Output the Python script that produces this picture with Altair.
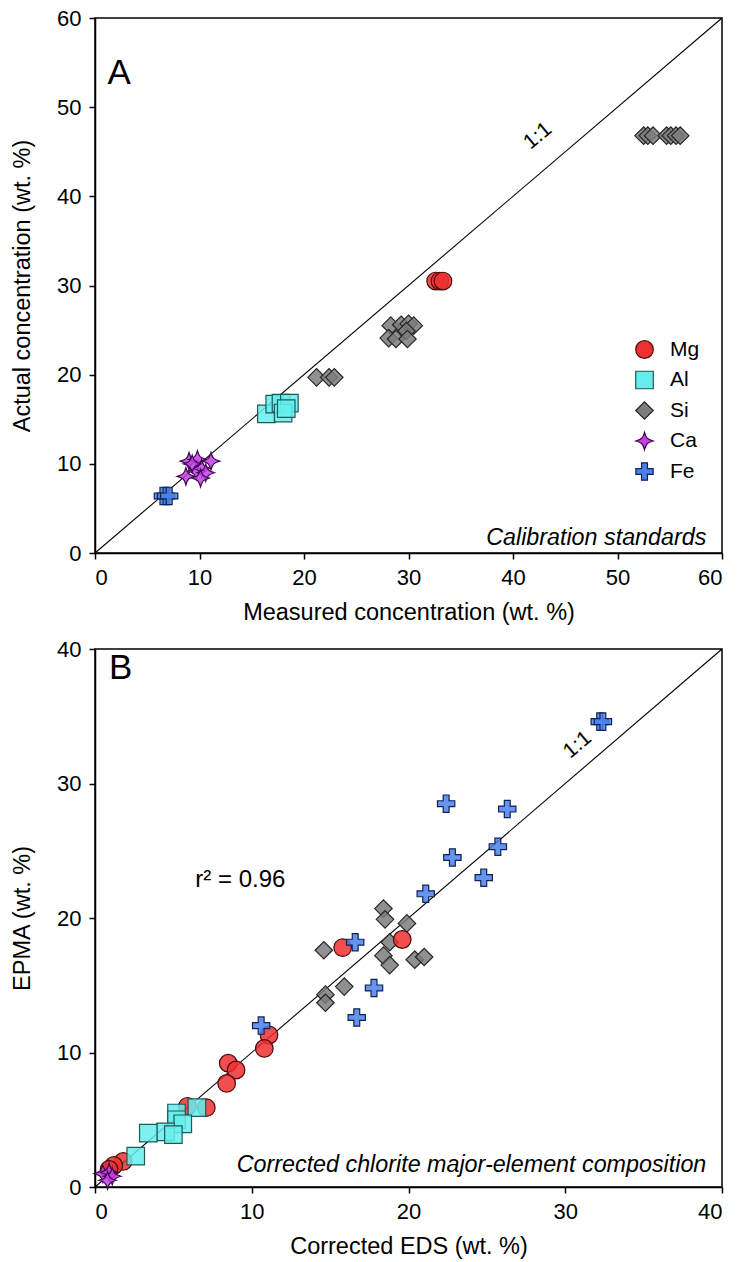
import altair as alt
import pandas as pd

FONT = "Liberation Sans"

elements = ["Mg", "Al", "Si", "Ca", "Fe"]
fill_colors = ["#ee3030", "#66eeec", "#7d7d7d", "#c53ee6", "#4b80ea"]
stroke_colors = ["#4a0a0a", "#1d5a5a", "#262626", "#3b0a4d", "#0f2352"]
STAR = ("M0,-1 C0.2,-0.3 0.3,-0.2 1,0 C0.3,0.2 0.2,0.3 0,1 "
        "C-0.2,0.3 -0.3,0.2 -1,0 C-0.3,-0.2 -0.2,-0.3 0,-1 Z")
CROSS = ("M-1,-0.34 L-0.34,-0.34 L-0.34,-1 L0.34,-1 L0.34,-0.34 L1,-0.34 "
         "L1,0.34 L0.34,0.34 L0.34,1 L-0.34,1 L-0.34,0.34 L-1,0.34 Z")
shapes = ["circle", "square", "diamond", STAR, CROSS]
sizes = [310, 300, 450, 680, 540]
draw_order = ["Si", "Mg", "Al", "Ca", "Fe"]

# ---- Panel A: calibration standards ----
a_mg_x = [32.6, 33.0, 33.3]
a_mg_y = [30.5, 30.5, 30.5]
a_al_x = [16.4, 17.2, 17.8, 18.6, 18.0, 18.3]
a_al_y = [15.6, 16.7, 16.8, 16.8, 15.7, 16.2]
a_si_x = [21.2, 22.4, 22.9, 28.3, 29.3, 30.0, 30.5, 29.8, 28.1, 28.8, 29.9,
          52.5, 52.9, 53.4, 54.7, 55.1, 55.6, 56.0]
a_si_y = [19.7, 19.7, 19.7, 25.5, 25.6, 25.7, 25.5, 24.9, 24.1, 24.0, 24.0,
          46.8, 46.8, 46.8, 46.8, 46.8, 46.8, 46.8]
a_ca_x = [9.0, 9.8, 11.1, 8.7, 9.7, 10.2, 10.6, 9.3, 10.1]
a_ca_y = [10.3, 10.5, 10.3, 8.6, 9.2, 9.5, 9.0, 10.0, 8.4]
a_fe_x = [6.5, 6.8, 7.1]
a_fe_y = [6.4, 6.4, 6.4]

# ---- Panel B: corrected chlorite composition ----
b_mg_x = [15.8, 19.6, 11.1, 10.8, 8.5, 9.0, 8.4, 5.9, 7.1, 1.8, 1.2, 0.9]
b_mg_y = [17.8, 18.4, 11.3, 10.3, 9.2, 8.7, 7.7, 6.0, 5.9, 1.9, 1.6, 1.3]
b_al_x = [6.5, 5.2, 5.2, 5.6, 4.5, 5.0, 3.4, 2.6]
b_al_y = [5.9, 5.5, 5.0, 4.7, 4.1, 3.9, 4.0, 2.3]
b_si_x = [14.6, 18.4, 18.5, 19.9, 18.8, 18.4, 18.8, 20.4, 21.0, 15.9, 14.7, 14.7]
b_si_y = [17.6, 20.7, 19.9, 19.6, 18.2, 17.2, 16.5, 16.9, 17.1, 14.9, 14.3, 13.7]
b_ca_x = [0.5, 0.9, 1.1, 0.8]
b_ca_y = [1.0, 1.1, 0.8, 0.5]
b_fe_x = [32.2, 32.4, 22.4, 26.3, 22.8, 25.7, 24.8, 21.1, 16.6, 17.8, 16.7, 10.6]
b_fe_y = [34.6, 34.6, 28.5, 28.1, 24.5, 25.3, 23.0, 21.8, 18.2, 14.8, 12.6, 12.0]

a_ticks = [0, 10, 20, 30, 40, 50, 60]
b_ticks = [0, 10, 20, 30, 40]
a_one_to_one = [0, 60]
b_one_to_one = [0, 40]

# annotations: [text, x, y]
a_letter = ["A", 1.2, 53.8]
b_letter = ["B", 0.9, 38.6]
a_ratio = ["1:1", 43.0, 45.9]
b_ratio = ["1:1", 31.2, 32.3]
b_r2 = ["r\u00b2 = 0.96", 6.4, 22.8]
a_note = ["Calibration standards", 58.5, 1.7]
b_note = ["Corrected chlorite major-element composition", 39.0, 1.6]


def points_df(d):
    rows = []
    for el in draw_order:
        xs, ys = d[el]
        for xv, yv in zip(xs, ys):
            rows.append({"x": xv, "y": yv, "el": el})
    return pd.DataFrame(rows)


dfA = points_df({"Mg": (a_mg_x, a_mg_y), "Al": (a_al_x, a_al_y), "Si": (a_si_x, a_si_y),
                 "Ca": (a_ca_x, a_ca_y), "Fe": (a_fe_x, a_fe_y)})
dfB = points_df({"Mg": (b_mg_x, b_mg_y), "Al": (b_al_x, b_al_y), "Si": (b_si_x, b_si_y),
                 "Ca": (b_ca_x, b_ca_y), "Fe": (b_fe_x, b_fe_y)})


def txt(item):
    return pd.DataFrame({"label": [item[0]], "x": [item[1]], "y": [item[2]]})


def panel(df, line_vals, ticks, xtitle, ytitle, letter, ratio, note, extra, legend, h):
    dmax = line_vals[-1]
    xs = alt.Scale(domain=[0, dmax], nice=False)
    ys = alt.Scale(domain=[0, dmax], nice=False)
    xax = alt.Axis(values=ticks, title=xtitle, titlePadding=12)
    yax = alt.Axis(values=ticks, title=ytitle, titlePadding=22)
    X = alt.X("x:Q", scale=xs, axis=xax)
    Y = alt.Y("y:Q", scale=ys, axis=yax)

    line = alt.Chart(pd.DataFrame({"x": line_vals, "y": line_vals})).mark_line(
        color="black", strokeWidth=1.1).encode(x=X, y=Y)

    pts = alt.Chart(df).mark_point(filled=True, fillOpacity=0.85, strokeWidth=1.2, opacity=1).encode(
        x=X, y=Y,
        fill=alt.Fill("el:N", scale=alt.Scale(domain=elements, range=fill_colors), legend=legend),
        stroke=alt.Stroke("el:N", scale=alt.Scale(domain=elements, range=stroke_colors), legend=legend),
        shape=alt.Shape("el:N", scale=alt.Scale(domain=elements, range=shapes), legend=legend),
        size=alt.Size("el:N", scale=alt.Scale(domain=elements, range=sizes), legend=legend),
    )

    let = alt.Chart(txt(letter)).mark_text(align="left", baseline="middle", fontSize=35,
                                            font=FONT, color="black").encode(x=X, y=Y, text="label:N")
    rat = alt.Chart(txt(ratio)).mark_text(align="center", baseline="bottom", fontSize=21, angle=320,
                                           font=FONT, color="black").encode(x=X, y=Y, text="label:N")
    nt = alt.Chart(txt(note)).mark_text(align="right", baseline="middle", fontSize=23.3, fontStyle="italic",
                                         font=FONT, color="black").encode(x=X, y=Y, text="label:N")
    layers = [line, pts, let, rat, nt]
    if extra is not None:
        layers.append(alt.Chart(txt(extra)).mark_text(align="left", baseline="middle", fontSize=24,
                                                       font=FONT, color="black").encode(x=X, y=Y, text="label:N"))
    return alt.layer(*layers).properties(width=627, height=h)


legA = alt.Legend(orient="none", legendX=539, legendY=321, title=None, labelFont=FONT,
                  labelFontSize=21, labelColor="black", symbolStrokeWidth=1.2, rowPadding=7.5,
                  labelOffset=15, padding=0)

pA = panel(dfA, a_one_to_one, a_ticks, "Measured concentration (wt. %)", "Actual concentration (wt. %)",
           a_letter, a_ratio, a_note, None, legA, 535)
pB = panel(dfB, b_one_to_one, b_ticks, "Corrected EDS (wt. %)", "EPMA (wt. %)",
           b_letter, b_ratio, b_note, b_r2, None, 538)

chart = alt.vconcat(pA, pB, spacing=12).resolve_scale(
    fill="independent", stroke="independent", shape="independent", size="independent"
).properties(
    padding={"left": 9, "top": 6, "right": 5, "bottom": 0}
).configure_axis(
    domainColor="black", domainWidth=1.5, tickColor="black", tickWidth=1.5, tickSize=6,
    labelFont=FONT, labelFontSize=22, labelColor="black", labelPadding=8,
    titleFont=FONT, titleFontSize=23.5, titleFontWeight="normal", titleColor="black", grid=False
).configure_view(stroke="black", strokeWidth=1.5)

chart.save("out.html", embed_options={"renderer": "svg", "actions": False})
